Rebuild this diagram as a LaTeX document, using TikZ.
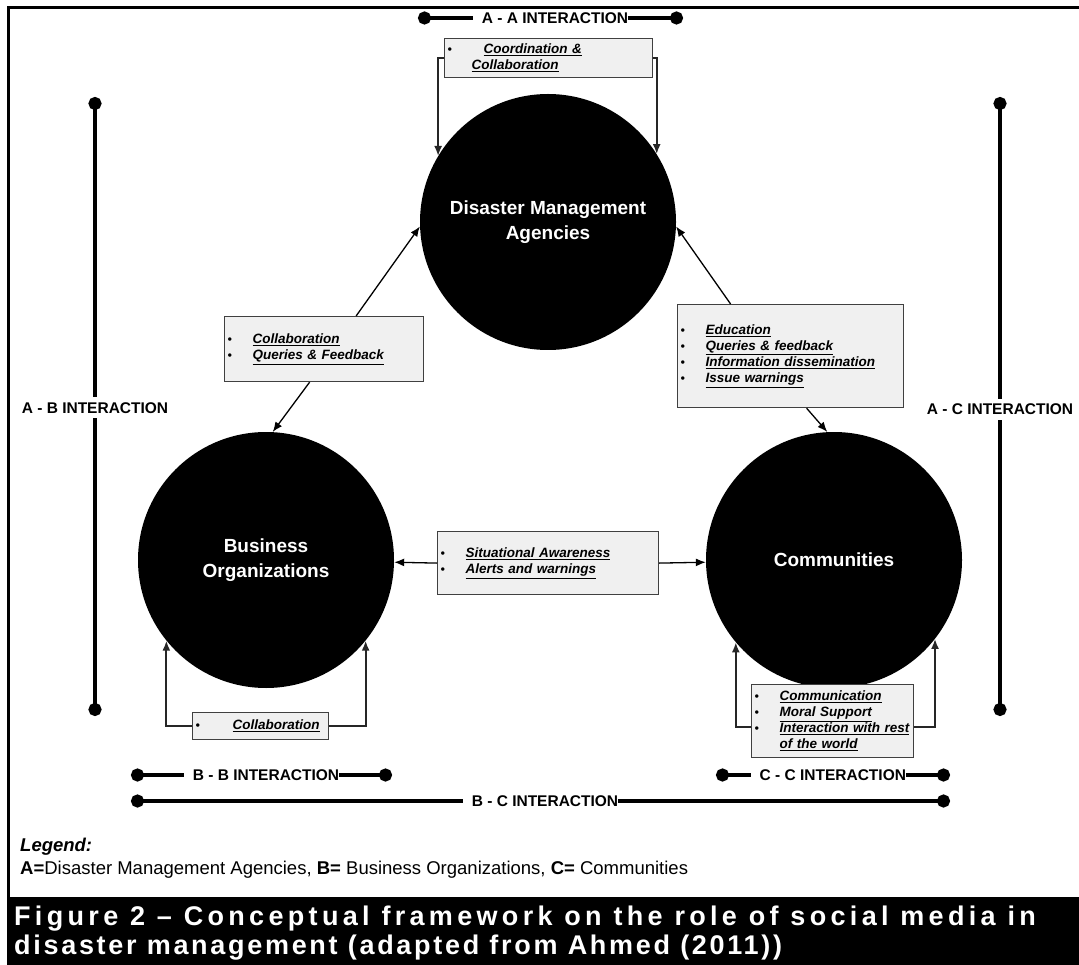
\documentclass[tikz,border=0pt]{standalone}
\usepackage{fontspec}
\setmainfont{Liberation Sans}
\newfontfamily\capfont[LetterSpace=10]{Liberation Sans}
\usetikzlibrary{arrows.meta,positioning,calc}
\newcommand{\bdot}{{\fontsize{12}{12}\selectfont\textbullet}}
\newcommand{\bitem}[1]{\makebox[25pt][l]{\bdot}\underline{#1}}

\begin{document}
\begin{tikzpicture}[
  x=1pt, y=-1pt,
  party/.style={circle, fill=black, minimum size=256pt, inner sep=0pt, text=white,
                align=center, font=\fontsize{19}{25}\selectfont\bfseries},
  infobox/.style={draw=black!75, line width=1.2pt, fill=black!6, anchor=north west,
                  inner xsep=3pt, inner ysep=0pt, align=left,
                  font=\fontsize{13.5}{16}\selectfont\bfseries\itshape},
  arrow/.style={-{Latex[length=10pt,width=8pt]}, line width=1.3pt, draw=black},
  loopline/.style={arrow, line width=1.8pt, draw=black!85},
  bar/.style={line width=4pt, {Circle[length=13pt]}-{Circle[length=13pt]}},
  barlabel/.style={fill=white, inner xsep=0pt, inner ysep=3pt,
                   font=\fontsize{15.5}{18}\selectfont\bfseries}
]
\useasboundingbox (0,0) rectangle (1079,965);
\draw[line width=3pt] (1085,7.5) -| (8.5,897);
\fill[black] (7,897) rectangle (1085,970);

\node[party] (A) at (548,222) {Disaster Management\\Agencies};
\node[party] (B) at (266,560) {Business\\Organizations};
\node[party] (C) at (834,560) {Communities};

\node[infobox, minimum width=208pt, minimum height=39pt, text width=202pt] (aabox) at (444,38)
  {\makebox[36pt][l]{\bdot}\underline{Coordination \&}\\\makebox[24pt]{}\underline{Collaboration}};
\node[infobox, minimum width=199pt, minimum height=65pt, text width=193pt] (abbox) at (224,316)
  {\bitem{Collaboration}\\\bitem{Queries \& Feedback}};
\node[infobox, minimum width=226pt, minimum height=103pt, text width=220pt] (acbox) at (677,304)
  {\bitem{Education}\\\bitem{Queries \& feedback}\\\bitem{Information dissemination}\\\bitem{Issue warnings}};
\node[infobox, minimum width=221pt, minimum height=63pt, text width=215pt] (bcbox) at (437,531)
  {\bitem{Situational Awareness}\\\bitem{Alerts and warnings}};
\node[infobox, minimum width=136pt, minimum height=27pt, text width=130pt] (bbbox) at (192,712)
  {\makebox[37pt][l]{\bdot}\underline{Collaboration}};
\node[infobox, minimum width=162pt, minimum height=73pt, text width=156pt] (ccbox) at (751,684)
  {\bitem{Communication}\\\bitem{Moral Support}\\\bitem{Interaction with rest}\\\makebox[25pt]{}\underline{of the world}};

\draw[arrow] ([xshift=32pt]abbox.north) -- (A.182);
\draw[arrow] ([xshift=-14.5pt]abbox.south) -- (B.87);
\draw[arrow] ([xshift=-60pt]acbox.north) -- (A.358);
\draw[arrow] ([xshift=16pt]acbox.south) -- (C.93);
\draw[arrow] (bcbox.west) -- (B.359);
\draw[arrow] (bcbox.east) -- (C.181);

\draw[loopline] (aabox.west) -| (A.149);
\draw[loopline] (aabox.east) -| (A.32);
\draw[loopline] (bbbox.west) -| (B.219);
\draw[loopline] (bbbox.east) -| (B.321);
\draw[loopline] ([yshift=-6pt]ccbox.west) -| (C.220);
\draw[loopline] ([yshift=-6pt]ccbox.east) -| (C.322);

\coordinate (aaL) at (418,18);
\coordinate (aaR) at (683,18);
\coordinate (abT) at (95,97);
\coordinate (abB) at (95,716);
\coordinate (acT) at (1000,97);
\coordinate (acB) at (1000,716);
\coordinate (bbL) at (131,775);
\coordinate (bbR) at (392,775);
\coordinate (ccL) at (716,775);
\coordinate (ccR) at (950,775);
\coordinate (bcL) at (131,801);
\coordinate (bcR) at (950,801);

\draw[bar] (aaL) -- (aaR) node[barlabel, pos=0.5] {\hspace*{9pt}A - A INTERACTION};
\draw[bar] (abT) -- (abB) node[barlabel, inner xsep=2pt, inner ysep=5pt, pos=0.502] {A - B INTERACTION};
\draw[bar] (acT) -- (acB) node[barlabel, inner xsep=2pt, inner ysep=5pt, pos=0.505] {A - C INTERACTION};
\draw[bar] (bbL) -- (bbR) node[barlabel, pos=0.5] {\hspace*{9pt}B - B INTERACTION};
\draw[bar] (ccL) -- (ccR) node[barlabel, pos=0.48] {\hspace*{9pt}C - C INTERACTION};
\draw[bar] (bcL) -- (bcR) node[barlabel, pos=0.5] {\hspace*{9pt}B - C INTERACTION};

\node[anchor=west, inner sep=0pt, font=\fontsize{18.5}{21}\selectfont\bfseries\itshape] (legendhead) at (20,847) {Legend:};
\node[anchor=west, inner sep=0pt, font=\fontsize{18.5}{21}\selectfont] (legendtext) at (20,870)
  {\textbf{A=}Disaster Management Agencies, \textbf{B=} Business Organizations, \textbf{C=} Communities};

\node[anchor=north west, inner sep=0pt, text=white, align=left,
      font=\capfont\bfseries\fontsize{27}{29}\selectfont] (caption) at (14,906)
  {{\addfontfeature{LetterSpace=16}Figure 2 – Conceptual framework on the role of social media in}\\disaster management (adapted from Ahmed (2011))};
\end{tikzpicture}
\end{document}
